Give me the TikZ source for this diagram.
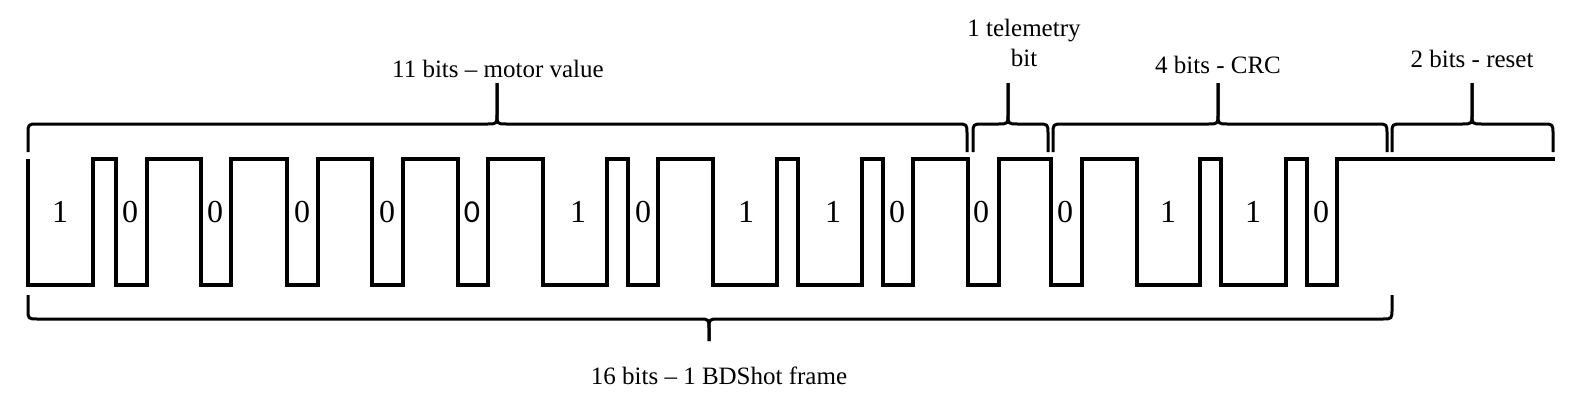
\documentclass[tikz,border=0pt]{standalone}
\usepackage{fontspec}
\setmainfont{Liberation Serif}
\newfontfamily\digsans{Carlito}
\tikzset{
  ln/.style={line width=3.1pt, line join=miter, line cap=butt},
  wave/.style={ln},
  br/.style={line width=3pt, line cap=butt, line join=round},
  lbl/.style={font=\fontsize{25}{30}\selectfont, inner sep=0pt, align=center},
  bitlbl/.style={font=\fontsize{32}{36}\selectfont, inner sep=0pt}
}
\newcommand\mytopbrace[3]{%
  \draw[br] (#1,152) -- (#1,134) .. controls (#1,124) .. (#1+10,124) -- (#2-10,124) .. controls (#2,124) .. (#2,114) -- (#2,83);
  \draw[br] (#2,83) -- (#2,114) .. controls (#2,124) .. (#2+10,124) -- (#3-10,124) .. controls (#3,124) .. (#3,134) -- (#3,152);
}
\begin{document}
\begin{tikzpicture}[x=1pt,y=-1pt]
\useasboundingbox[fill=white] (0,0) rectangle (1583,400);
% waveform
\draw[wave] (28,159) -- (28,285) -| (93,159) -| (116,285) -| (147,159) -| (201,285) -| (231,159) -| (287,285) -| (318,159) -| (372,285) -| (403,159) -| (458,285) -| (488,159) -| (543,285) -| (607,159) -| (628,285) -| (658,159) -| (713,285) -| (777,159) -| (798,285) -| (862,159) -| (883,285) -| (913,159) -| (968,285) -| (999,159) -| (1051,285) -| (1082,159) -| (1137,285) -| (1200,159) -| (1221,285) -| (1286,159) -| (1307,285) -| (1337,159) -- (1555,159);
% bit labels
\node[bitlbl] (b1) at (60,212) {1};
\node[bitlbl] (b2) at (130,212) {0};
\node[bitlbl] (b3) at (215,212) {0};
\node[bitlbl] (b4) at (302,212) {0};
\node[bitlbl] (b5) at (387,212) {0};
\node[bitlbl] (b6) at (472,212) {\digsans 0};
\node[bitlbl] (b7) at (578,212) {1};
\node[bitlbl] (b8) at (643,212) {0};
\node[bitlbl] (b9) at (746,212) {1};
\node[bitlbl] (b10) at (833,212) {1};
\node[bitlbl] (b11) at (897,212) {0};
\node[bitlbl] (b12) at (981,212) {0};
\node[bitlbl] (b13) at (1065,212) {0};
\node[bitlbl] (b14) at (1168,212) {1};
\node[bitlbl] (b15) at (1253,212) {1};
\node[bitlbl] (b16) at (1321,212) {0};
% top braces
\mytopbrace{28}{497}{967}
\mytopbrace{973}{1008}{1048}
\mytopbrace{1053}{1218}{1387}
\mytopbrace{1392}{1472}{1553}
% bottom brace
\draw[br] (28,295) -- (28,309) .. controls (28,319) .. (38,319) -- (699,319) .. controls (709,319) .. (709,329) -- (709,341);
\draw[br] (709,341) -- (709,329) .. controls (709,319) .. (719,319) -- (1382,319) .. controls (1392,319) .. (1392,309) -- (1392,295);
% labels
\node[lbl] (tmotor) at (498,69) {11 bits -- motor value};
\node[lbl] (ttel) at (1024,43) {1 telemetry\\bit};
\node[lbl] (tcrc) at (1218,65) {4 bits - CRC};
\node[lbl] (treset) at (1472,59) {2 bits - reset};
\node[lbl] (tframe) at (719,376) {16 bits -- 1 BDShot frame};
\end{tikzpicture}
\end{document}
